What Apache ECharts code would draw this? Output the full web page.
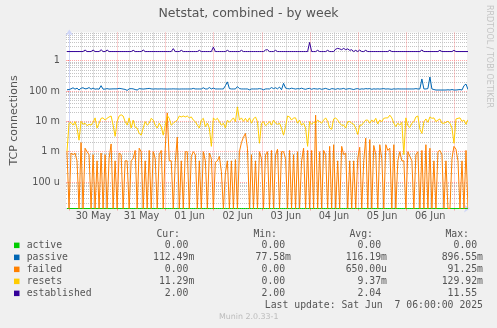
<!DOCTYPE html>
<html><head><meta charset="utf-8">
<script src="https://cdn.jsdelivr.net/npm/echarts@6/dist/echarts.min.js"></script>
<style>html,body{margin:0;padding:0;background:#F0F0F0;}#c{width:497px;height:328px;}</style>
</head><body><div id="c"></div>
<script>
// ---- data (hourly samples; first sample at startHour hours after 30 May 00:00) ----
const seriesNames = ['active', 'passive', 'failed', 'resets', 'established'];
const seriesColors = ['#00CC00', '#0066B3', '#FF8000', '#FFCC00', '#330099'];
const startHour = -1.15;

const active = [0,0,0,0,0,0,0,0,0,0,0,0,0,0,0,0,0,0,0,0,0,0,0,0,0,0,0,0,0,0,0,0,0,0,0,0,0,0,0,0,0,0,0,0,0,0,0,0,0,0,0,0,0,0,0,0,0,0,0,0,0,0,0,0,0,0,0,0,0,0,0,0,0,0,0,0,0,0,0,0,0,0,0,0,0,0,0,0,0,0,0,0,0,0,0,0,0,0,0,0,0,0,0,0,0,0,0,0,0,0,0,0,0,0,0,0,0,0,0,0,0,0,0,0,0,0,0,0,0,0,0,0,0,0,0,0,0,0,0,0,0,0,0,0,0,0,0,0,0,0,0,0,0,0,0,0,0,0,0,0,0,0,0,0,0,0,0,0,0,0,0,0,0,0,0,0,0,0,0,0,0,0,0,0,0,0,0,0,0,0,0,0,0,0,0,0,0,0,0,0,0];

const passive = [
.110,.112,.118,.128,.115,.124,.108,.124,.128,.118,.120,.130,.115,.125,.115,.118,.115,.150,.115,.116,
.120,.116,.117,.118,.118,.118,.122,.120,.116,.113,.105,.118,.120,.118,.112,.108,.120,.118,.116,.118,
.120,.122,.118,.116,.118,.117,.117,.118,.117,.117,.116,.117,.117,.118,.117,.117,.116,.117,.117,.117,
.117,.117,.117,.122,.117,.117,.117,.117,.128,.117,.117,.130,.117,.125,.117,.117,.117,.117,.117,.150,
.200,.120,.117,.117,.117,.140,.120,.117,.117,.117,.117,.110,.117,.117,.117,.117,.120,.117,.110,.117,
.118,.117,.130,.120,.128,.118,.135,.110,.180,.125,.120,.118,.124,.120,.116,.120,.118,.124,.118,.114,
.120,.122,.114,.120,.118,.116,.120,.114,.118,.122,.116,.112,.120,.118,.114,.120,.116,.118,.122,.114,
.118,.120,.116,.112,.118,.120,.114,.118,.116,.120,.118,.120,.114,.118,.116,.118,.116,.118,.120,.116,
.118,.116,.114,.118,.116,.118,.117,.117,.117,.117,.117,.117,.117,.117,.120,.117,.117,.250,.117,.117,
.120,.290,.117,.112,.108,.108,.108,.108,.108,.108,.110,.108,.112,.108,.108,.110,.112,.108,.150,.170,
.112];

const failedMilli = [
1.0,0,0.9,0.8,0.9,0.5,0,2.0,0,1.3,1.0,0.8,0,0.8,0,0.5,0,0.9,0,0.8,
0,0.6,1.8,0,0.5,0,0.9,0.8,0,0.5,0.5,0,0.5,0.6,1.1,0,1.3,1.0,0,0.5,
0,1.1,0,1.0,0.6,0,0.8,1.1,0,1.3,19,0.5,0.5,0,0.45,3,0,0.5,0,1.0,
1.0,0,0.7,1.0,0.8,0,0.5,0,1.0,0.5,0,0.9,0.6,0,0.45,0.5,0.7,0.22,0,0.2,
0.5,0,0.5,0,0.55,0,1.0,2.0,3.0,4.0,1.3,0,0.8,0,0.5,0,1.0,0.6,0,0.8,
1.0,0,1.1,0,0.8,1.2,0,1.0,1.0,0.6,0,1.1,0,0.8,0,1.0,0,0.5,1.3,0,
1.1,0,1.1,0,16,0,1.0,0,1.1,0.8,0,1.5,0,1.7,0,0.5,0,1.5,0.8,0.9,
0,0.5,0,0.5,0,0.6,1.4,0,0.5,2.8,0,2.5,0,1.6,0.8,0,1.7,0.6,0,1.7,
1.1,1.3,0,1.7,0,0.5,1.0,0.5,0.5,0,1.0,0.7,0.5,0,0.8,1.0,0,1.1,0,1.7,
0,1.3,0,0.5,0,1.0,1.1,0.8,0,0.5,0,0,0.6,1.5,1.2,0.5,0,0.5,0,1.1,
0];

const resetsMilli = [
1.0,8.7,9.2,7.5,9.8,6.0,2.4,10,8,8.7,7.2,8,7.5,9.3,13,6,8.7,12.6,13,11,
12.6,14,15,7.5,3.2,9.8,15,16.5,15,9.8,7.5,13,6,11,6.3,6,4,3.5,6,9.8,
7.5,8.7,12.6,11,7.5,6,8.7,6.7,3.5,7.5,15.6,12.6,7.5,8.7,9.8,11,15,14,15,14,
15,13,14,11,9.8,7.5,6,11,12.6,6.7,8.7,6,1.5,13,11,12.6,9.8,7.5,8.7,6,
11,9.3,11,13,9.8,30,11,13,10,12.6,9.8,13,8.7,12,14,9.8,1.9,8.7,9.8,7.2,
8.2,9.8,7.5,11,8.7,8,8.7,6,3.5,6.7,15,14,11,13,13,8.7,11,7.5,8.7,6,
1.5,9.8,8,9.3,8.7,11,9.8,8.7,11,13,10,6,5.5,12,13,11,8.7,7.5,7.5,6,
9.8,9.8,8.7,8,6,3.7,7.5,7.5,9.3,11,11,8.7,11,9.8,12.6,8.2,11,9.8,12.6,13,
13,16,13,8.7,6.7,8.7,7.5,9.3,0.8,13,7.2,6.3,8.7,9.8,14,15,5.5,4,9.8,12,
9.3,14,12.6,13,9.8,11,12,8.7,8.7,9.3,10,8.7,6,1.9,12,12.6,13,10,11,8,
11.3];

const established = [
2,2,2,2,2,2,2,2,2,2.25,2,2,2,2.25,2,2,2,2.3,2,2,
2.25,2,2,2,2,2,2,2,2,2,2,2,2,2.2,2,2,2,2,2.25,2,
2,2,2,2,2,2,2,2,2,2,2,2,2,2.5,2,2,2,2.2,2,2,
2,2,2,2,2,2,2.2,2,2,2,2,2,2,2.8,2,2,2,2,2,2,
2.2,2,2,2,2,2,2,2.2,2,2,2,2,2,2,2,2,2,2,2,2.25,
2.3,2,2,2,2.2,2,2,2,2,2,2,2,2,2,2,2,2,2,2,2,
2,4.0,2,2,2,2.2,2,2,2,2,2.2,2,2,2,2.4,2.55,2.45,2.3,2.55,2.3,
2.45,2.2,2.3,2,2.2,2,2.25,2,2,2.2,2,2,2,2,2,2,2,2,2,2,
2,2.2,2,2,2,2,2,2,2,2,2,2,2,2,2,2,2,2.25,2,2,
2,2,2,2,2,2,2.2,2,2,2,2,2,2,2.2,2,2,2,2,2,2,
2];

const dayLabels = ['30 May', '31 May', '01 Jun', '02 Jun', '03 Jun', '04 Jun', '05 Jun', '06 Jun'];
const dayLabelHours = [12, 36, 60, 84, 108, 132, 156, 180];
const midnightHours = [0, 24, 48, 72, 96, 120, 144, 168, 192];
const quarterDayHours = [6,12,18, 30,36,42, 54,60,66, 78,84,90, 102,108,114, 126,132,138, 150,156,162, 174,180,186];

const yTickValues = [1e-4, 1e-3, 1e-2, 1e-1, 1];
const yTickLabels = ['100 u', '1 m', '10 m', '100 m', '1'];

const statHeaders = ['Cur:', 'Min:', 'Avg:', 'Max:'];
const statCur = ['0.00 ', '112.49m', '0.00 ', '11.29m', '2.00 '];
const statMin = ['0.00 ', '77.58m', '0.00 ', '0.00 ', '2.00 '];
const statAvg = ['0.00 ', '116.19m', '650.00u', '9.37m', '2.04 '];
const statMax = ['0.00 ', '896.55m', '91.25m', '129.92m', '11.55 '];
const lastUpdate = 'Last update: Sat Jun  7 06:00:00 2025';

// ---- chart ----
const Y_MIN = 1.34e-5, Y_MAX = 8.5;
const X_MIN = -1.65, X_MAX = 198.35;
const yMinor = [];
for (let e = -5; e <= 0; e++) for (let m = 2; m <= 9; m++) {
  const v = m * Math.pow(10, e);
  if (v > Y_MIN && v < Y_MAX) yMinor.push(v);
}
const TXT = '#555555';
const SANS = '"DejaVu Sans", sans-serif';
const MONO = '"DejaVu Sans Mono", monospace';
const MAJOR = 'rgba(255,80,80,0.5)';
const MINOR = '#c4c4c4';

function toPairs(arr, scale) {
  return arr.map((v, i) => [startHour + i, Math.max(v * scale, Y_MIN)]);
}
const seriesData = [
  toPairs(active, 1), toPairs(passive, 1), toPairs(failedMilli, 1e-3),
  toPairs(resetsMilli, 1e-3), toPairs(established, 1)
];

function near(v, list) {
  return list.findIndex(t => Math.abs(Math.log10(v) - Math.log10(t)) < 1e-6);
}

const colX = [194.3, 291, 387, 483];
const headX = [180, 277, 373, 469];
const rowY0 = 245.3, rowStep = 12;
const graphic = [];
graphic.push({type:'text', x:248.5, y:13.3, style:{text:'Netstat, combined - by week', font:'12.5px ' + SANS, fill:TXT, align:'center', verticalAlign:'middle'}});
graphic.push({type:'text', x:14, y:120.5, rotation:Math.PI/2, style:{text:'TCP connections', font:'11px ' + SANS, fill:TXT, align:'center', verticalAlign:'middle'}});
graphic.push({type:'text', x:489.3, y:56.5, rotation:-Math.PI/2, style:{text:'RRDTOOL / TOBI OETIKER', font:'8px ' + SANS, fill:'#c4c4c4', align:'center', verticalAlign:'middle'}});
statHeaders.forEach((h, k) => graphic.push({type:'text', x:headX[k], y:234, style:{text:h, font:'9.8px ' + MONO, fill:TXT, align:'right', verticalAlign:'middle'}}));
seriesNames.forEach((n, r) => {
  const y = rowY0 + r * rowStep;
  graphic.push({type:'rect', shape:{x:14, y:y - 2.7, width:5.5, height:5.5}, style:{fill:seriesColors[r]}});
  graphic.push({type:'text', x:26.7, y:y, style:{text:n, font:'9.8px ' + MONO, fill:TXT, align:'left', verticalAlign:'middle'}});
  [statCur, statMin, statAvg, statMax].forEach((col, k) => graphic.push({type:'text', x:colX[k], y:y, style:{text:col[r], font:'9.8px ' + MONO, fill:TXT, align:'right', verticalAlign:'middle'}}));
});
graphic.push({type:'text', x:483, y:305.3, style:{text:lastUpdate, font:'9.8px ' + MONO, fill:TXT, align:'right', verticalAlign:'middle'}});
graphic.push({type:'text', x:248.7, y:317.3, style:{text:'Munin 2.0.33-1', font:'7.9px ' + SANS, fill:'#bbbbbb', align:'center', verticalAlign:'middle'}});

const chart = echarts.init(document.getElementById('c'), null, {renderer:'canvas'});
chart.setOption({
  animation: false,
  backgroundColor: '#F0F0F0',
  grid: {left:66, top:32.5, width:401, height:176, show:true, backgroundColor:'#FFFFFF', borderWidth:0, containLabel:false},
  xAxis: [{
    type:'value', min:X_MIN, max:X_MAX, position:'bottom',
    axisLine:{show:true, lineStyle:{color:'#CFD6F8', width:1}, symbol:['none','arrow'], symbolSize:[6,6], symbolOffset:[0,3]},
    axisTick:{show:true, customValues:midnightHours, length:2, lineStyle:{color:MAJOR}},
    axisLabel:{show:true, customValues:dayLabelHours, margin:3, color:TXT, fontFamily:SANS, fontSize:9.7,
      formatter: v => { const k = dayLabelHours.indexOf(Math.round(v)); return k >= 0 ? dayLabels[k] : ''; }},
    splitLine:{show:true, lineStyle:{color:MAJOR, type:[1,1], width:1}}
  }, {
    type:'value', min:X_MIN, max:X_MAX, position:'top',
    axisLine:{show:false}, axisLabel:{show:false},
    axisTick:{show:false, customValues:quarterDayHours},
    splitLine:{show:true, lineStyle:{color:MINOR, type:[1,1], width:1}}
  }],
  yAxis: [{
    type:'log', logBase:10, min:Y_MIN, max:Y_MAX,
    axisLine:{show:true, lineStyle:{color:'#CFD6F8', width:1}, symbol:['none','arrow'], symbolSize:[6,6], symbolOffset:[0,3]},
    axisTick:{show:true, customValues:yTickValues, length:2, lineStyle:{color:MAJOR}},
    axisLabel:{show:true, customValues:yTickValues, margin:6, color:TXT, fontFamily:SANS, fontSize:9.7,
      formatter: v => { const k = near(v, yTickValues); return k >= 0 ? yTickLabels[k] : ''; }},
    splitLine:{show:true, lineStyle:{color:MAJOR, type:[1,1], width:1}}
  }, {
    type:'log', logBase:10, min:Y_MIN, max:Y_MAX, position:'right',
    axisLine:{show:false}, axisLabel:{show:false},
    axisTick:{show:false, customValues:yMinor},
    splitLine:{show:true, lineStyle:{color:MINOR, type:[1,1], width:1}}
  }],
  series: seriesNames.map((n, k) => ({
    name:n, type:'line', xAxisIndex:0, yAxisIndex:0, data:seriesData[k],
    showSymbol:false, symbol:'none', z:2 + k,
    lineStyle:{color:seriesColors[k], width:1}, itemStyle:{color:seriesColors[k]}
  })),
  graphic: graphic
});
</script></body></html>
